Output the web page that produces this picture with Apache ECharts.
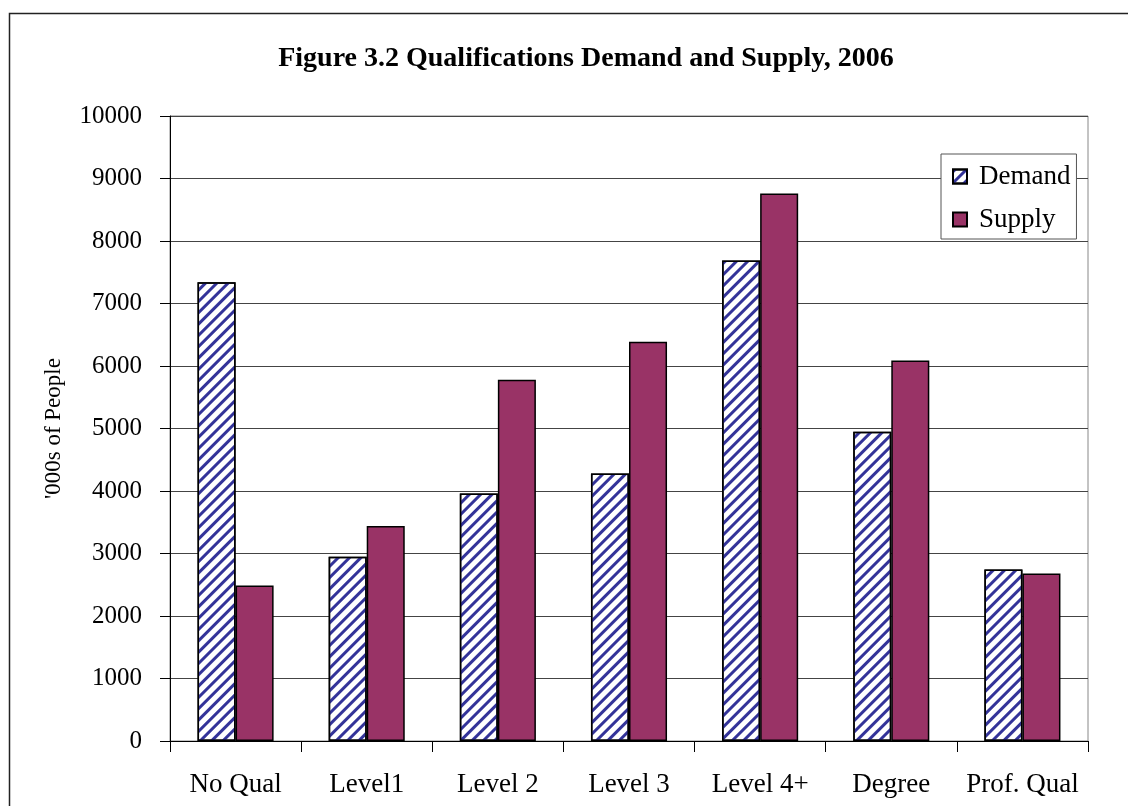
<!DOCTYPE html>
<html>
<head>
<meta charset="utf-8">
<script src="https://cdn.jsdelivr.net/npm/echarts@6/dist/echarts.min.js"></script>
<style>
html,body{margin:0;padding:0;background:#fff;}
#chart{width:1128px;height:806px;}
</style>
</head>
<body>
<div id="chart"></div>
<script>
const categories = ['No Qual', 'Level1', 'Level 2', 'Level 3', 'Level 4+', 'Degree', 'Prof. Qual'];
const demand = [7340, 2950, 3960, 4280, 7690, 4950, 2745];
const supply = [2490, 3440, 5780, 6390, 8760, 6090, 2680];
const yTicks = [0, 1000, 2000, 3000, 4000, 5000, 6000, 7000, 8000, 9000, 10000];

const serif = "'Liberation Serif', 'Times New Roman', serif";
const chart = echarts.init(document.getElementById('chart'));
chart.setOption({
  animation: false,
  backgroundColor: '#fff',
  textStyle: { fontFamily: serif, color: '#000' },
  title: {
    text: 'Figure 3.2 Qualifications Demand and Supply, 2006',
    left: 581, top: 40, textAlign: 'center',
    textStyle: { fontFamily: serif, fontWeight: 'bold', fontSize: 28, color: '#000' }
  },
  graphic: [{
    type: 'rect', silent: true, z: -10,
    shape: { x: 9.5, y: 13.5, width: 1200, height: 900 },
    style: { fill: 'none', stroke: '#222', lineWidth: 1.5 }
  }],
  legend: {
    orient: 'vertical',
    left: 941, top: 154,
    backgroundColor: '#fff',
    borderColor: '#555', borderWidth: 1,
    padding: [9, 6, 6, 11],
    itemGap: 16,
    itemWidth: 14, itemHeight: 14,
    icon: 'rect',
    textStyle: { fontFamily: serif, fontSize: 27, color: '#000', padding: [0, 0, 0, 7] },
    data: [{ name: 'Demand' }, { name: 'Supply' }]
  },
  grid: {
    left: 170, right: 40, top: 116, bottom: 65,
    show: true, borderColor: '#888', borderWidth: 1
  },
  xAxis: {
    type: 'category',
    data: categories,
    axisLine: { lineStyle: { color: '#000', width: 1 } },
    axisTick: { show: true, length: 11, lineStyle: { color: '#000' } },
    axisLabel: { fontFamily: serif, fontSize: 27, color: '#000', margin: 30, interval: 0 },
    splitLine: { show: false }
  },
  yAxis: {
    type: 'value',
    min: yTicks[0], max: yTicks[yTicks.length - 1], interval: 1000,
    name: "'000s of People",
    nameLocation: 'middle',
    nameGap: 105,
    nameTextStyle: { fontFamily: serif, fontSize: 23, color: '#000' },
    axisLine: { show: true, lineStyle: { color: '#000', width: 1 } },
    axisTick: { show: true, inside: false, length: 10, lineStyle: { color: '#000' } },
    axisLabel: { fontFamily: serif, fontSize: 25, color: '#000', margin: 28, formatter: v => String(v) },
    splitLine: { show: true, lineStyle: { color: '#444', width: 1 } }
  },
  series: [{
    name: 'Demand',
    type: 'bar',
    data: demand,
    barGap: '0%',
    barCategoryGap: '42%',
    itemStyle: {
      color: '#fff',
      borderColor: '#000', borderWidth: 1.5,
      decal: {
        symbol: 'rect',
        color: '#333399',
        dashArrayX: [1, 0],
        dashArrayY: [3, 5],
        rotation: -Math.PI / 4
      }
    }
  }, {
    name: 'Supply',
    type: 'bar',
    data: supply,
    barGap: '0%',
    barCategoryGap: '42%',
    itemStyle: { color: '#993366', borderColor: '#000', borderWidth: 1.5 }
  }]
});
</script>
</body>
</html>
